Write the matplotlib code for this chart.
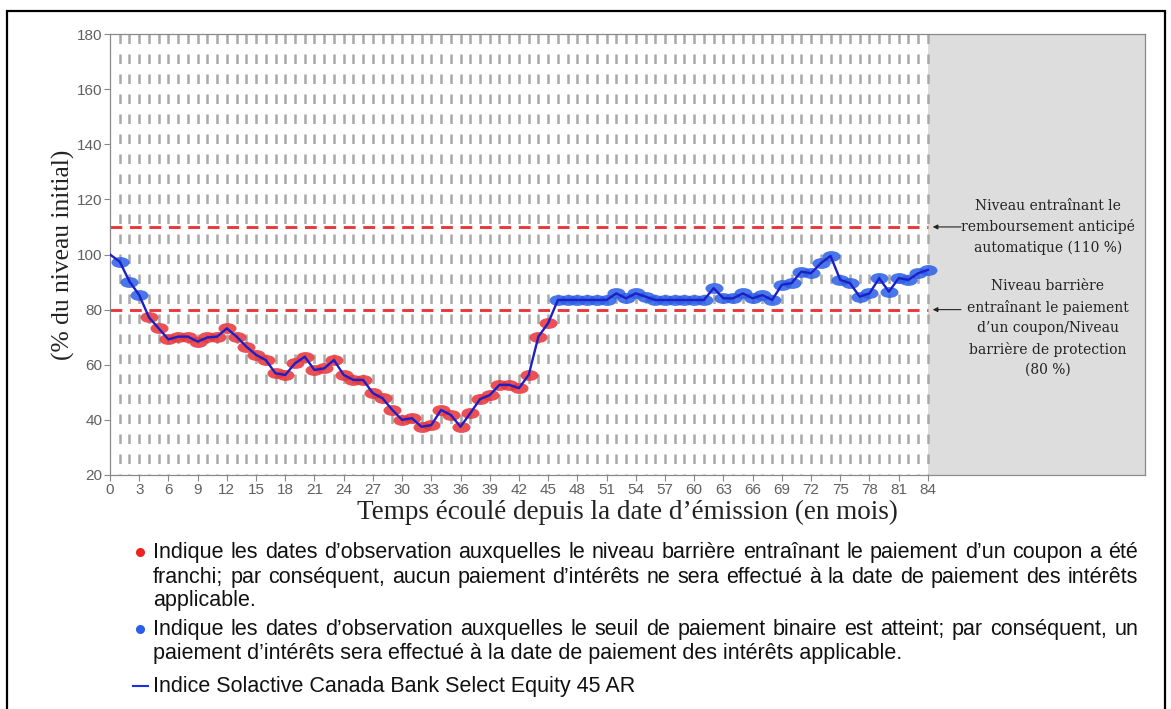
import matplotlib
matplotlib.use('Agg')
import matplotlib.pyplot as plt
import numpy as np
from matplotlib.path import Path
from matplotlib.transforms import Affine2D
from matplotlib.patches import Rectangle
from matplotlib.lines import Line2D

plt.rcParams['lines.scale_dashes'] = False

W, H = 1171, 709

# monthly index level (% of initial level)
months = np.arange(0, 85)
levels = [100.0, 97.4, 90.2, 85.3, 77.2, 73.2, 69.2, 70.2, 70.2, 68.4,
          69.9, 70.2, 73.2, 70.2, 66.6, 63.6, 61.7, 56.9, 56.3, 60.5,
          62.9, 58.1, 58.7, 61.7, 56.3, 54.5, 54.5, 49.7, 47.8, 43.6,
          40.0, 40.6, 37.5, 38.1, 43.6, 41.8, 37.5, 42.4, 47.5, 49.0,
          52.7, 52.7, 51.5, 56.3, 70.2, 75.1, 83.5, 83.5, 83.5, 83.5,
          83.5, 83.5, 85.9, 84.1, 85.9, 84.7, 83.5, 83.5, 83.5, 83.5,
          83.5, 83.5, 87.8, 84.1, 84.1, 85.9, 84.1, 85.3, 83.5, 89.0,
          89.6, 93.8, 93.2, 96.8, 99.5, 90.8, 89.6, 84.7, 85.9, 91.4,
          86.5, 91.4, 90.8, 93.2, 94.4]
levels = np.array(levels)

autocall_level = 110
barrier_level = 80
x_ticks = list(range(0, 85, 3))
y_ticks = list(range(20, 181, 20))

note_autocall = "Niveau entraînant le\nremboursement anticipé\nautomatique (110 %)"
note_barrier = ("Niveau barrière\nentraînant le paiement\nd\u2019un coupon/Niveau\n"
                "barrière de protection\n(80 %)")
xlabel = "Temps écoulé depuis la date d\u2019émission (en mois)"
ylabel = "(% du niveau initial)"

legend_red = ["Indique les dates d\u2019observation auxquelles le niveau barrière entraînant le paiement d\u2019un coupon a été",
              "franchi; par conséquent, aucun paiement d\u2019intérêts ne sera effectué à la date de paiement des intérêts",
              "applicable."]
legend_blue = ["Indique les dates d\u2019observation auxquelles le seuil de paiement binaire est atteint; par conséquent, un",
               "paiement d\u2019intérêts sera effectué à la date de paiement des intérêts applicable."]
legend_line = "Indice Solactive Canada Bank Select Equity 45 AR"

RED = '#e8383c'
BLUE = '#2a5ee8'
LINE = '#1c20c4'
GRID = '#a8a8a8'
TICK = '#606060'


def px(x, y):
    return x / W, 1 - y / H


fig = plt.figure(figsize=(W / 100, H / 100), dpi=100)
ax = fig.add_axes([110 / W, 1 - 475 / H, (1145 - 110) / W, 441 / H])

ax.set_xlim(0, 106.3)
ax.set_ylim(20, 180)

ax.axvspan(84, 106.3, color='#dddddd', zorder=0, lw=0)
ax.vlines(months[1:], 180, 20, colors=GRID, linewidth=1.8,
          linestyles=[(0, (6.8, 7.6))], zorder=1)

for lvl in (autocall_level, barrier_level):
    ax.plot([0, 84], [lvl, lvl], color=RED, lw=2.1, dashes=(8.5, 5.5), zorder=2)

# elliptic marker
ell = Path.unit_circle().transformed(Affine2D().scale(1.0, 0.6))
below = levels[1:] < barrier_level
obs_m = months[1:]
obs_v = levels[1:]
ax.plot(obs_m[below], obs_v[below], ls='none', marker=ell, ms=13,
        mfc=RED, mec='none', alpha=0.88, zorder=3)
ax.plot(obs_m[~below], obs_v[~below], ls='none', marker=ell, ms=13,
        mfc=BLUE, mec='none', alpha=0.85, zorder=3)
ax.plot(months, levels, color=LINE, lw=1.7, zorder=4)

ax.set_xticks(x_ticks)
ax.set_yticks(y_ticks)
tick_font = ['Liberation Sans', 'DejaVu Sans']
ax.set_xticklabels([str(t) for t in x_ticks], family=tick_font, fontsize=11, color=TICK)
ax.set_yticklabels([str(t) for t in y_ticks], family=tick_font, fontsize=11, color=TICK)
ax.tick_params(axis='both', length=4, width=0.8, color='#888888', pad=1.5)
for s in ax.spines.values():
    s.set_color('#8a8a8a')
    s.set_linewidth(0.9)

ax.set_xlabel(xlabel, family='Liberation Serif', fontsize=19.5, color='#222222', labelpad=2)
ax.set_ylabel(ylabel, family='Liberation Serif', fontsize=18.4, color='#222222')
ax.yaxis.set_label_coords(-0.034, 0.5)

# notes in the grey area
ax.text(96.3, autocall_level, note_autocall, ha='center', va='center',
        family='DejaVu Serif', fontsize=10, color='#222222', linespacing=1.56)
ax.text(96.3, 73.4, note_barrier, ha='center', va='center',
        family='DejaVu Serif', fontsize=10, color='#222222', linespacing=1.56)
for lvl in (autocall_level, barrier_level):
    ax.annotate('', xy=(84.5, lvl), xytext=(87.4, lvl),
                arrowprops=dict(arrowstyle='-|>', color='#222222', lw=0.8,
                                mutation_scale=7, shrinkA=0, shrinkB=0))

# legend text below the chart (justified like the source document)
leg_font = dict(family=['Liberation Sans'], fontsize=15.5, color='#111111')
renderer = fig.canvas.get_renderer()


def put_line(line, x0, x1, y, justify):
    yb = y + 6  # baseline
    if not justify:
        fig.text(*px(x0, yb), line, ha='left', va='baseline', **leg_font)
        return
    words = line.split(' ')
    texts = [fig.text(0, 0, w, ha='left', va='baseline', **leg_font) for w in words]
    widths = [t.get_window_extent(renderer).width for t in texts]
    gap = (x1 - x0 - sum(widths)) / (len(words) - 1)
    x = x0
    for t, w in zip(texts, widths):
        t.set_position(px(x, yb))
        x += w + gap


x0, x1 = 153, 1138
for i, (line, y) in enumerate(zip(legend_red, [552, 577, 600])):
    put_line(line, x0, x1, y, i < 2)
for i, (line, y) in enumerate(zip(legend_blue, [629, 653])):
    put_line(line, x0, x1, y, i < 1)
put_line(legend_line, x0, x1, 686, False)

fig.add_artist(Line2D([px(140, 0)[0]], [px(0, 552)[1]], marker='o', ms=5.5,
                      color='#ee2222', ls='none'))
fig.add_artist(Line2D([px(140, 0)[0]], [px(0, 629)[1]], marker='o', ms=5.5,
                      color='#2a5ef0', ls='none'))
fig.add_artist(Line2D([px(133, 0)[0], px(148, 0)[0]], [px(0, 686)[1]] * 2,
                      color='#1c30e0', lw=1.5))

# outer frame
fig.add_artist(Rectangle(px(7, 715), (1165 - 7) / W, (715 - 11) / H,
                         transform=fig.transFigure, fill=False, ec='black', lw=1.6))

fig.savefig('out.png', dpi=100)
